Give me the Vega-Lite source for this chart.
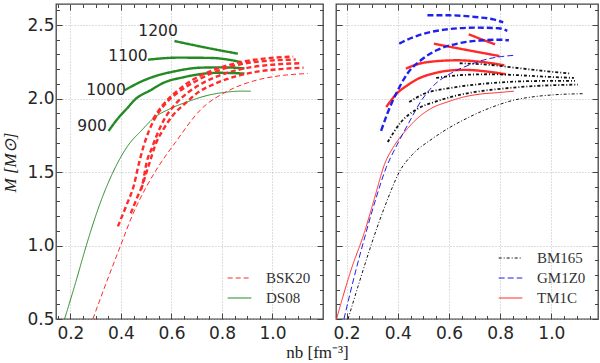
{
  "$schema": "https://vega.github.io/schema/vega-lite/v6.json",
  "padding": {"left": 0, "top": 2, "right": 0, "bottom": 0},
  "bounds": "flush",
  "spacing": 13,
  "datasets": {
    "left": [
      {"series": "DS08", "rot": "static", "x": 0.177, "y": 0.5},
      {"series": "DS08", "rot": "static", "x": 0.221, "y": 0.75},
      {"series": "DS08", "rot": "static", "x": 0.263, "y": 1.0},
      {"series": "DS08", "rot": "static", "x": 0.314, "y": 1.27},
      {"series": "DS08", "rot": "static", "x": 0.369, "y": 1.5},
      {"series": "DS08", "rot": "static", "x": 0.428, "y": 1.68},
      {"series": "DS08", "rot": "static", "x": 0.48, "y": 1.78},
      {"series": "DS08", "rot": "static", "x": 0.532, "y": 1.87},
      {"series": "DS08", "rot": "static", "x": 0.594, "y": 1.93},
      {"series": "DS08", "rot": "static", "x": 0.667, "y": 1.98},
      {"series": "DS08", "rot": "static", "x": 0.74, "y": 2.02},
      {"series": "DS08", "rot": "static", "x": 0.802, "y": 2.04},
      {"series": "DS08", "rot": "static", "x": 0.874, "y": 2.05},
      {"series": "DS08", "rot": "static", "x": 0.914, "y": 2.05},
      {"series": "DS08", "rot": "900", "x": 0.351, "y": 1.779},
      {"series": "DS08", "rot": "900", "x": 0.386, "y": 1.86},
      {"series": "DS08", "rot": "900", "x": 0.428, "y": 1.94},
      {"series": "DS08", "rot": "900", "x": 0.454, "y": 1.99},
      {"series": "DS08", "rot": "900", "x": 0.521, "y": 2.06},
      {"series": "DS08", "rot": "900", "x": 0.56, "y": 2.1},
      {"series": "DS08", "rot": "900", "x": 0.651, "y": 2.146},
      {"series": "DS08", "rot": "900", "x": 0.692, "y": 2.16},
      {"series": "DS08", "rot": "900", "x": 0.784, "y": 2.175},
      {"series": "DS08", "rot": "900", "x": 0.889, "y": 2.17},
      {"series": "DS08", "rot": "1000", "x": 0.415, "y": 2.056},
      {"series": "DS08", "rot": "1000", "x": 0.48, "y": 2.115},
      {"series": "DS08", "rot": "1000", "x": 0.547, "y": 2.158},
      {"series": "DS08", "rot": "1000", "x": 0.599, "y": 2.18},
      {"series": "DS08", "rot": "1000", "x": 0.718, "y": 2.21},
      {"series": "DS08", "rot": "1000", "x": 0.8, "y": 2.212},
      {"series": "DS08", "rot": "1000", "x": 0.889, "y": 2.205},
      {"series": "DS08", "rot": "1100", "x": 0.507, "y": 2.264},
      {"series": "DS08", "rot": "1100", "x": 0.625, "y": 2.278},
      {"series": "DS08", "rot": "1100", "x": 0.757, "y": 2.276},
      {"series": "DS08", "rot": "1100", "x": 0.876, "y": 2.248},
      {"series": "DS08", "rot": "1200", "x": 0.612, "y": 2.391},
      {"series": "DS08", "rot": "1200", "x": 0.74, "y": 2.345},
      {"series": "DS08", "rot": "1200", "x": 0.863, "y": 2.305},
      {"series": "BSK20", "rot": "static", "x": 0.289, "y": 0.5},
      {"series": "BSK20", "rot": "static", "x": 0.345, "y": 0.76},
      {"series": "BSK20", "rot": "static", "x": 0.401, "y": 1.01},
      {"series": "BSK20", "rot": "static", "x": 0.449, "y": 1.22},
      {"series": "BSK20", "rot": "static", "x": 0.501, "y": 1.4},
      {"series": "BSK20", "rot": "static", "x": 0.542, "y": 1.52},
      {"series": "BSK20", "rot": "static", "x": 0.615, "y": 1.7},
      {"series": "BSK20", "rot": "static", "x": 0.719, "y": 1.93},
      {"series": "BSK20", "rot": "static", "x": 0.822, "y": 2.05},
      {"series": "BSK20", "rot": "static", "x": 0.926, "y": 2.12},
      {"series": "BSK20", "rot": "static", "x": 1.03, "y": 2.155},
      {"series": "BSK20", "rot": "static", "x": 1.139, "y": 2.17},
      {"series": "BSK20", "rot": "900", "x": 0.48, "y": 1.38},
      {"series": "BSK20", "rot": "900", "x": 0.511, "y": 1.55},
      {"series": "BSK20", "rot": "900", "x": 0.54, "y": 1.7},
      {"series": "BSK20", "rot": "900", "x": 0.568, "y": 1.79},
      {"series": "BSK20", "rot": "900", "x": 0.606, "y": 1.886},
      {"series": "BSK20", "rot": "900", "x": 0.657, "y": 1.97},
      {"series": "BSK20", "rot": "900", "x": 0.704, "y": 2.04},
      {"series": "BSK20", "rot": "900", "x": 0.771, "y": 2.1},
      {"series": "BSK20", "rot": "900", "x": 0.854, "y": 2.15},
      {"series": "BSK20", "rot": "900", "x": 0.947, "y": 2.185},
      {"series": "BSK20", "rot": "900", "x": 1.03, "y": 2.2},
      {"series": "BSK20", "rot": "900", "x": 1.123, "y": 2.21},
      {"series": "BSK20", "rot": "1000", "x": 0.439, "y": 1.22},
      {"series": "BSK20", "rot": "1000", "x": 0.465, "y": 1.33},
      {"series": "BSK20", "rot": "1000", "x": 0.487, "y": 1.43},
      {"series": "BSK20", "rot": "1000", "x": 0.501, "y": 1.56},
      {"series": "BSK20", "rot": "1000", "x": 0.522, "y": 1.66},
      {"series": "BSK20", "rot": "1000", "x": 0.542, "y": 1.75},
      {"series": "BSK20", "rot": "1000", "x": 0.572, "y": 1.86},
      {"series": "BSK20", "rot": "1000", "x": 0.615, "y": 1.96},
      {"series": "BSK20", "rot": "1000", "x": 0.665, "y": 2.04},
      {"series": "BSK20", "rot": "1000", "x": 0.729, "y": 2.11},
      {"series": "BSK20", "rot": "1000", "x": 0.812, "y": 2.17},
      {"series": "BSK20", "rot": "1000", "x": 0.906, "y": 2.21},
      {"series": "BSK20", "rot": "1000", "x": 0.999, "y": 2.23},
      {"series": "BSK20", "rot": "1000", "x": 1.113, "y": 2.24},
      {"series": "BSK20", "rot": "1100", "x": 0.388, "y": 1.13},
      {"series": "BSK20", "rot": "1100", "x": 0.421, "y": 1.27},
      {"series": "BSK20", "rot": "1100", "x": 0.453, "y": 1.42},
      {"series": "BSK20", "rot": "1100", "x": 0.47, "y": 1.55},
      {"series": "BSK20", "rot": "1100", "x": 0.487, "y": 1.66},
      {"series": "BSK20", "rot": "1100", "x": 0.511, "y": 1.78},
      {"series": "BSK20", "rot": "1100", "x": 0.533, "y": 1.86},
      {"series": "BSK20", "rot": "1100", "x": 0.574, "y": 1.96},
      {"series": "BSK20", "rot": "1100", "x": 0.625, "y": 2.04},
      {"series": "BSK20", "rot": "1100", "x": 0.688, "y": 2.11},
      {"series": "BSK20", "rot": "1100", "x": 0.771, "y": 2.18},
      {"series": "BSK20", "rot": "1100", "x": 0.864, "y": 2.23},
      {"series": "BSK20", "rot": "1100", "x": 0.968, "y": 2.255},
      {"series": "BSK20", "rot": "1100", "x": 1.092, "y": 2.265},
      {"series": "BSK20", "rot": "1200", "x": 0.527, "y": 1.86},
      {"series": "BSK20", "rot": "1200", "x": 0.563, "y": 1.95},
      {"series": "BSK20", "rot": "1200", "x": 0.615, "y": 2.04},
      {"series": "BSK20", "rot": "1200", "x": 0.677, "y": 2.12},
      {"series": "BSK20", "rot": "1200", "x": 0.76, "y": 2.19},
      {"series": "BSK20", "rot": "1200", "x": 0.854, "y": 2.24},
      {"series": "BSK20", "rot": "1200", "x": 0.957, "y": 2.27},
      {"series": "BSK20", "rot": "1200", "x": 1.082, "y": 2.285}
    ],
    "labels": [
      {"label": "1200", "x": 0.547, "y": 2.459},
      {"label": "1100", "x": 0.428, "y": 2.289},
      {"label": "1000", "x": 0.341, "y": 2.06},
      {"label": "900", "x": 0.286, "y": 1.811}
    ],
    "right": [
      {"series": "TM1C", "rot": "static", "x": 0.161, "y": 0.5},
      {"series": "TM1C", "rot": "static", "x": 0.219, "y": 0.84},
      {"series": "TM1C", "rot": "static", "x": 0.27, "y": 1.09},
      {"series": "TM1C", "rot": "static", "x": 0.309, "y": 1.32},
      {"series": "TM1C", "rot": "static", "x": 0.348, "y": 1.55},
      {"series": "TM1C", "rot": "static", "x": 0.387, "y": 1.68},
      {"series": "TM1C", "rot": "static", "x": 0.438, "y": 1.795},
      {"series": "TM1C", "rot": "static", "x": 0.48, "y": 1.87},
      {"series": "TM1C", "rot": "static", "x": 0.528, "y": 1.93},
      {"series": "TM1C", "rot": "static", "x": 0.6, "y": 1.98},
      {"series": "TM1C", "rot": "static", "x": 0.657, "y": 2.01},
      {"series": "TM1C", "rot": "static", "x": 0.722, "y": 2.03},
      {"series": "TM1C", "rot": "static", "x": 0.79, "y": 2.04},
      {"series": "TM1C", "rot": "static", "x": 0.854, "y": 2.05},
      {"series": "TM1C", "rot": "900", "x": 0.355, "y": 1.942},
      {"series": "TM1C", "rot": "900", "x": 0.4, "y": 2.04},
      {"series": "TM1C", "rot": "900", "x": 0.438, "y": 2.09},
      {"series": "TM1C", "rot": "900", "x": 0.48, "y": 2.135},
      {"series": "TM1C", "rot": "900", "x": 0.528, "y": 2.165},
      {"series": "TM1C", "rot": "900", "x": 0.6, "y": 2.19},
      {"series": "TM1C", "rot": "900", "x": 0.657, "y": 2.195},
      {"series": "TM1C", "rot": "900", "x": 0.742, "y": 2.185},
      {"series": "TM1C", "rot": "900", "x": 0.822, "y": 2.165},
      {"series": "TM1C", "rot": "1000", "x": 0.432, "y": 2.203},
      {"series": "TM1C", "rot": "1000", "x": 0.48, "y": 2.235},
      {"series": "TM1C", "rot": "1000", "x": 0.528, "y": 2.25},
      {"series": "TM1C", "rot": "1000", "x": 0.632, "y": 2.26},
      {"series": "TM1C", "rot": "1000", "x": 0.722, "y": 2.25},
      {"series": "TM1C", "rot": "1000", "x": 0.816, "y": 2.226},
      {"series": "TM1C", "rot": "1100", "x": 0.541, "y": 2.373},
      {"series": "TM1C", "rot": "1100", "x": 0.67, "y": 2.33},
      {"series": "TM1C", "rot": "1100", "x": 0.797, "y": 2.289},
      {"series": "TM1C", "rot": "1200", "x": 0.677, "y": 2.437},
      {"series": "TM1C", "rot": "1200", "x": 0.73, "y": 2.401},
      {"series": "TM1C", "rot": "1200", "x": 0.78, "y": 2.369},
      {"series": "GM1Z0", "rot": "static", "x": 0.19, "y": 0.5},
      {"series": "GM1Z0", "rot": "static", "x": 0.232, "y": 0.8},
      {"series": "GM1Z0", "rot": "static", "x": 0.275, "y": 1.08},
      {"series": "GM1Z0", "rot": "static", "x": 0.315, "y": 1.32},
      {"series": "GM1Z0", "rot": "static", "x": 0.355, "y": 1.53},
      {"series": "GM1Z0", "rot": "static", "x": 0.39, "y": 1.66},
      {"series": "GM1Z0", "rot": "static", "x": 0.42, "y": 1.76},
      {"series": "GM1Z0", "rot": "static", "x": 0.445, "y": 1.84},
      {"series": "GM1Z0", "rot": "static", "x": 0.49, "y": 1.98},
      {"series": "GM1Z0", "rot": "static", "x": 0.541, "y": 2.09},
      {"series": "GM1Z0", "rot": "static", "x": 0.606, "y": 2.17},
      {"series": "GM1Z0", "rot": "static", "x": 0.682, "y": 2.23},
      {"series": "GM1Z0", "rot": "static", "x": 0.753, "y": 2.27},
      {"series": "GM1Z0", "rot": "static", "x": 0.804, "y": 2.285},
      {"series": "GM1Z0", "rot": "static", "x": 0.862, "y": 2.295},
      {"series": "GM1Z0", "rot": "900", "x": 0.335, "y": 1.78},
      {"series": "GM1Z0", "rot": "900", "x": 0.36, "y": 1.9},
      {"series": "GM1Z0", "rot": "900", "x": 0.393, "y": 2.03},
      {"series": "GM1Z0", "rot": "900", "x": 0.438, "y": 2.17},
      {"series": "GM1Z0", "rot": "900", "x": 0.49, "y": 2.26},
      {"series": "GM1Z0", "rot": "900", "x": 0.554, "y": 2.33},
      {"series": "GM1Z0", "rot": "900", "x": 0.632, "y": 2.373},
      {"series": "GM1Z0", "rot": "900", "x": 0.722, "y": 2.395},
      {"series": "GM1Z0", "rot": "900", "x": 0.804, "y": 2.4},
      {"series": "GM1Z0", "rot": "900", "x": 0.834, "y": 2.396},
      {"series": "GM1Z0", "rot": "1000", "x": 0.406, "y": 2.373},
      {"series": "GM1Z0", "rot": "1000", "x": 0.45, "y": 2.41},
      {"series": "GM1Z0", "rot": "1000", "x": 0.5, "y": 2.44},
      {"series": "GM1Z0", "rot": "1000", "x": 0.6, "y": 2.472},
      {"series": "GM1Z0", "rot": "1000", "x": 0.702, "y": 2.482},
      {"series": "GM1Z0", "rot": "1000", "x": 0.794, "y": 2.478},
      {"series": "GM1Z0", "rot": "1000", "x": 0.828, "y": 2.46},
      {"series": "GM1Z0", "rot": "1100", "x": 0.516, "y": 2.566},
      {"series": "GM1Z0", "rot": "1100", "x": 0.6, "y": 2.566},
      {"series": "GM1Z0", "rot": "1100", "x": 0.702, "y": 2.555},
      {"series": "GM1Z0", "rot": "1100", "x": 0.773, "y": 2.538},
      {"series": "GM1Z0", "rot": "1100", "x": 0.812, "y": 2.518},
      {"series": "BM165", "rot": "static", "x": 0.206, "y": 0.5},
      {"series": "BM165", "rot": "static", "x": 0.25, "y": 0.75},
      {"series": "BM165", "rot": "static", "x": 0.29, "y": 0.97},
      {"series": "BM165", "rot": "static", "x": 0.325, "y": 1.15},
      {"series": "BM165", "rot": "static", "x": 0.355, "y": 1.29},
      {"series": "BM165", "rot": "static", "x": 0.38, "y": 1.4},
      {"series": "BM165", "rot": "static", "x": 0.406, "y": 1.5},
      {"series": "BM165", "rot": "static", "x": 0.458, "y": 1.62},
      {"series": "BM165", "rot": "static", "x": 0.53, "y": 1.72},
      {"series": "BM165", "rot": "static", "x": 0.6, "y": 1.8},
      {"series": "BM165", "rot": "static", "x": 0.658, "y": 1.855},
      {"series": "BM165", "rot": "static", "x": 0.724, "y": 1.91},
      {"series": "BM165", "rot": "static", "x": 0.79, "y": 1.955},
      {"series": "BM165", "rot": "static", "x": 0.856, "y": 1.99},
      {"series": "BM165", "rot": "static", "x": 0.922, "y": 2.01},
      {"series": "BM165", "rot": "static", "x": 1.008, "y": 2.025},
      {"series": "BM165", "rot": "static", "x": 1.128, "y": 2.033},
      {"series": "BM165", "rot": "900", "x": 0.361, "y": 1.704},
      {"series": "BM165", "rot": "900", "x": 0.413, "y": 1.84},
      {"series": "BM165", "rot": "900", "x": 0.477, "y": 1.93},
      {"series": "BM165", "rot": "900", "x": 0.55, "y": 1.98},
      {"series": "BM165", "rot": "900", "x": 0.606, "y": 2.01},
      {"series": "BM165", "rot": "900", "x": 0.704, "y": 2.045},
      {"series": "BM165", "rot": "900", "x": 0.806, "y": 2.067},
      {"series": "BM165", "rot": "900", "x": 0.906, "y": 2.082},
      {"series": "BM165", "rot": "900", "x": 0.998, "y": 2.09},
      {"series": "BM165", "rot": "900", "x": 1.104, "y": 2.095},
      {"series": "BM165", "rot": "1000", "x": 0.445, "y": 1.976},
      {"series": "BM165", "rot": "1000", "x": 0.5, "y": 2.03},
      {"series": "BM165", "rot": "1000", "x": 0.6, "y": 2.07},
      {"series": "BM165", "rot": "1000", "x": 0.704, "y": 2.095},
      {"series": "BM165", "rot": "1000", "x": 0.806, "y": 2.11},
      {"series": "BM165", "rot": "1000", "x": 0.906, "y": 2.118},
      {"series": "BM165", "rot": "1000", "x": 1.008, "y": 2.12},
      {"series": "BM165", "rot": "1000", "x": 1.092, "y": 2.12},
      {"series": "BM165", "rot": "1100", "x": 0.55, "y": 2.14},
      {"series": "BM165", "rot": "1100", "x": 0.652, "y": 2.16},
      {"series": "BM165", "rot": "1100", "x": 0.754, "y": 2.165},
      {"series": "BM165", "rot": "1100", "x": 0.856, "y": 2.16},
      {"series": "BM165", "rot": "1100", "x": 0.958, "y": 2.15},
      {"series": "BM165", "rot": "1100", "x": 1.088, "y": 2.14},
      {"series": "BM165", "rot": "1200", "x": 0.642, "y": 2.24},
      {"series": "BM165", "rot": "1200", "x": 0.754, "y": 2.23},
      {"series": "BM165", "rot": "1200", "x": 0.856, "y": 2.21},
      {"series": "BM165", "rot": "1200", "x": 0.958, "y": 2.19},
      {"series": "BM165", "rot": "1200", "x": 1.074, "y": 2.17}
    ]
  },
  "resolve": {
    "scale": {"x": "independent", "y": "independent", "color": "independent", "strokeDash": "independent"},
    "legend": {"color": "independent", "strokeDash": "independent"}
  },
  "hconcat": [
    {
      "width": 267,
      "height": 315,
      "resolve": {"axis": {"x": "independent", "y": "independent"}},
      "layer": [
        {
          "data": {"name": "left"},
          "mark": {"type": "line", "clip": true, "interpolate": "monotone"},
          "encoding": {
            "x": {"field": "x", "type": "quantitative", "scale": {"domain": [0.143, 1.2], "nice": false, "zero": false},
              "axis": {"orient": "bottom", "values": [0.2, 0.4, 0.6, 0.8, 1.0], "format": ".1f", "grid": true, "tickSize": -6, "labelPadding": 12,
                "title": "nb [fm⁻³]", "titleX": 261, "titleY": 38, "titleBaseline": "alphabetic", "titleAlign": "center"}},
            "y": {"field": "y", "type": "quantitative", "scale": {"domain": [0.5, 2.643], "nice": false, "zero": false},
              "axis": {"orient": "left", "values": [0.5, 1.0, 1.5, 2.0, 2.5], "format": ".1f", "grid": true, "tickSize": -6, "labelPadding": 8,
                "title": "M [M⊙]", "titleX": -46, "titleY": 158, "titleAngle": 270, "titleBaseline": "middle", "titleAlign": "center", "titleFontStyle": "italic"}},
            "color": {"field": "series", "type": "nominal", "scale": {"domain": ["BSK20", "DS08"], "range": ["#ff2a2a", "#248a24"]},
              "legend": {"title": null, "orient": "bottom-right", "offset": 12}},
            "strokeDash": {"field": "series", "type": "nominal", "scale": {"domain": ["BSK20", "DS08"], "range": [[5, 3], [1, 0]]},
              "legend": {"title": null, "orient": "bottom-right", "offset": 12}},
            "strokeWidth": {"condition": {"test": "datum.rot === 'static'", "value": 1}, "value": 2.4},
            "detail": {"field": "rot"}
          }
        },
        {
          "data": {"name": "labels"},
          "mark": {"type": "text", "font": "DejaVu Sans", "fontSize": 15.5, "color": "#262626", "align": "center", "baseline": "middle"},
          "encoding": {
            "x": {"field": "x", "type": "quantitative", "axis": null},
            "y": {"field": "y", "type": "quantitative", "axis": null},
            "text": {"field": "label"}
          }
        },
        {
          "data": {"name": "labels"},
          "mark": {"type": "point", "opacity": 0},
          "encoding": {
            "x": {"field": "x", "type": "quantitative", "axis": {"orient": "bottom", "values": [0.15, 0.25, 0.3, 0.35, 0.45, 0.5, 0.55, 0.65, 0.7, 0.75, 0.85, 0.9, 0.95, 1.05, 1.1, 1.15], "labels": false, "grid": false, "tickSize": -3.5, "title": null}},
            "y": {"field": "y", "type": "quantitative", "axis": {"orient": "left", "values": [0.6, 0.7, 0.8, 0.9, 1.1, 1.2, 1.3, 1.4, 1.6, 1.7, 1.8, 1.9, 2.1, 2.2, 2.3, 2.4, 2.6], "labels": false, "grid": false, "tickSize": -3.5, "title": null}}
          }
        },
        {
          "data": {"name": "labels"},
          "mark": {"type": "point", "opacity": 0},
          "encoding": {
            "x": {"field": "x", "type": "quantitative", "axis": {"orient": "top", "values": [0.2, 0.4, 0.6, 0.8, 1.0], "labels": false, "grid": false, "tickSize": -6, "title": null}},
            "y": {"field": "y", "type": "quantitative", "axis": {"orient": "right", "values": [0.5, 1.0, 1.5, 2.0, 2.5], "labels": false, "grid": false, "tickSize": -6, "title": null}}
          }
        },
        {
          "data": {"name": "labels"},
          "mark": {"type": "point", "opacity": 0},
          "encoding": {
            "x": {"field": "x", "type": "quantitative", "axis": {"orient": "top", "values": [0.15, 0.25, 0.3, 0.35, 0.45, 0.5, 0.55, 0.65, 0.7, 0.75, 0.85, 0.9, 0.95, 1.05, 1.1, 1.15], "labels": false, "grid": false, "tickSize": -3.5, "title": null}},
            "y": {"field": "y", "type": "quantitative", "axis": {"orient": "right", "values": [0.6, 0.7, 0.8, 0.9, 1.1, 1.2, 1.3, 1.4, 1.6, 1.7, 1.8, 1.9, 2.1, 2.2, 2.3, 2.4, 2.6], "labels": false, "grid": false, "tickSize": -3.5, "title": null}}
          }
        }
      ]
    },
    {
      "width": 262,
      "height": 315,
      "resolve": {"axis": {"x": "independent", "y": "independent"}},
      "layer": [
        {
          "data": {"name": "right"},
          "mark": {"type": "line", "clip": true, "interpolate": "monotone"},
          "encoding": {
            "x": {"field": "x", "type": "quantitative", "scale": {"domain": [0.159, 1.182], "nice": false, "zero": false},
              "axis": {"orient": "bottom", "values": [0.2, 0.4, 0.6, 0.8, 1.0], "format": ".1f", "grid": true, "tickSize": -6, "labelPadding": 12, "title": null}},
            "y": {"field": "y", "type": "quantitative", "scale": {"domain": [0.5, 2.643], "nice": false, "zero": false},
              "axis": {"orient": "left", "values": [0.5, 1.0, 1.5, 2.0, 2.5], "labels": false, "grid": true, "tickSize": -6, "title": null}},
            "color": {"field": "series", "type": "nominal", "scale": {"domain": ["BM165", "GM1Z0", "TM1C"], "range": ["#111111", "#1f1fee", "#ff2a2a"]},
              "legend": {"title": null, "orient": "bottom-right", "offset": 12}},
            "strokeDash": {"field": "series", "type": "nominal", "scale": {"domain": ["BM165", "GM1Z0", "TM1C"], "range": [[3, 2, 1, 2], [6, 3], [1, 0]]},
              "legend": {"title": null, "orient": "bottom-right", "offset": 12}},
            "strokeWidth": {"condition": [{"test": "datum.rot === 'static'", "value": 1}, {"test": "datum.series === 'BM165'", "value": 1.8}], "value": 2.4},
            "detail": {"field": "rot"}
          }
        },
        {
          "data": {"name": "labels"},
          "mark": {"type": "point", "opacity": 0},
          "encoding": {
            "x": {"field": "x", "type": "quantitative", "axis": {"orient": "bottom", "values": [0.25, 0.3, 0.35, 0.45, 0.5, 0.55, 0.65, 0.7, 0.75, 0.85, 0.9, 0.95, 1.05, 1.1, 1.15], "labels": false, "grid": false, "tickSize": -3.5, "title": null}},
            "y": {"field": "y", "type": "quantitative", "axis": {"orient": "left", "values": [0.6, 0.7, 0.8, 0.9, 1.1, 1.2, 1.3, 1.4, 1.6, 1.7, 1.8, 1.9, 2.1, 2.2, 2.3, 2.4, 2.6], "labels": false, "grid": false, "tickSize": -3.5, "title": null}}
          }
        },
        {
          "data": {"name": "labels"},
          "mark": {"type": "point", "opacity": 0},
          "encoding": {
            "x": {"field": "x", "type": "quantitative", "axis": {"orient": "top", "values": [0.2, 0.4, 0.6, 0.8, 1.0], "labels": false, "grid": false, "tickSize": -6, "title": null}},
            "y": {"field": "y", "type": "quantitative", "axis": {"orient": "right", "values": [0.5, 1.0, 1.5, 2.0, 2.5], "labels": false, "grid": false, "tickSize": -6, "title": null}}
          }
        },
        {
          "data": {"name": "labels"},
          "mark": {"type": "point", "opacity": 0},
          "encoding": {
            "x": {"field": "x", "type": "quantitative", "axis": {"orient": "top", "values": [0.25, 0.3, 0.35, 0.45, 0.5, 0.55, 0.65, 0.7, 0.75, 0.85, 0.9, 0.95, 1.05, 1.1, 1.15], "labels": false, "grid": false, "tickSize": -3.5, "title": null}},
            "y": {"field": "y", "type": "quantitative", "axis": {"orient": "right", "values": [0.6, 0.7, 0.8, 0.9, 1.1, 1.2, 1.3, 1.4, 1.6, 1.7, 1.8, 1.9, 2.1, 2.2, 2.3, 2.4, 2.6], "labels": false, "grid": false, "tickSize": -3.5, "title": null}}
          }
        }
      ]
    }
  ],
  "config": {
    "view": {"stroke": "#444444", "strokeWidth": 1.3},
    "axis": {
      "domain": false,
      "labelFont": "DejaVu Sans", "labelFontSize": 17, "labelColor": "#262626",
      "labelFlush": false, "labelOverlap": false,
      "tickColor": "#444444", "tickWidth": 1,
      "gridColor": "#b5b5b5", "gridDash": [1, 2], "gridWidth": 0.9,
      "titleFont": "Liberation Serif", "titleFontSize": 17, "titleFontWeight": "normal", "titleColor": "#222222"
    },
    "legend": {
      "symbolType": "stroke", "symbolSize": 560, "symbolStrokeWidth": 1.2,
      "labelFont": "Liberation Serif", "labelFontSize": 15, "labelColor": "#333333",
      "labelOffset": 14, "rowPadding": 2, "clipHeight": 18, "padding": 0
    }
  }
}
